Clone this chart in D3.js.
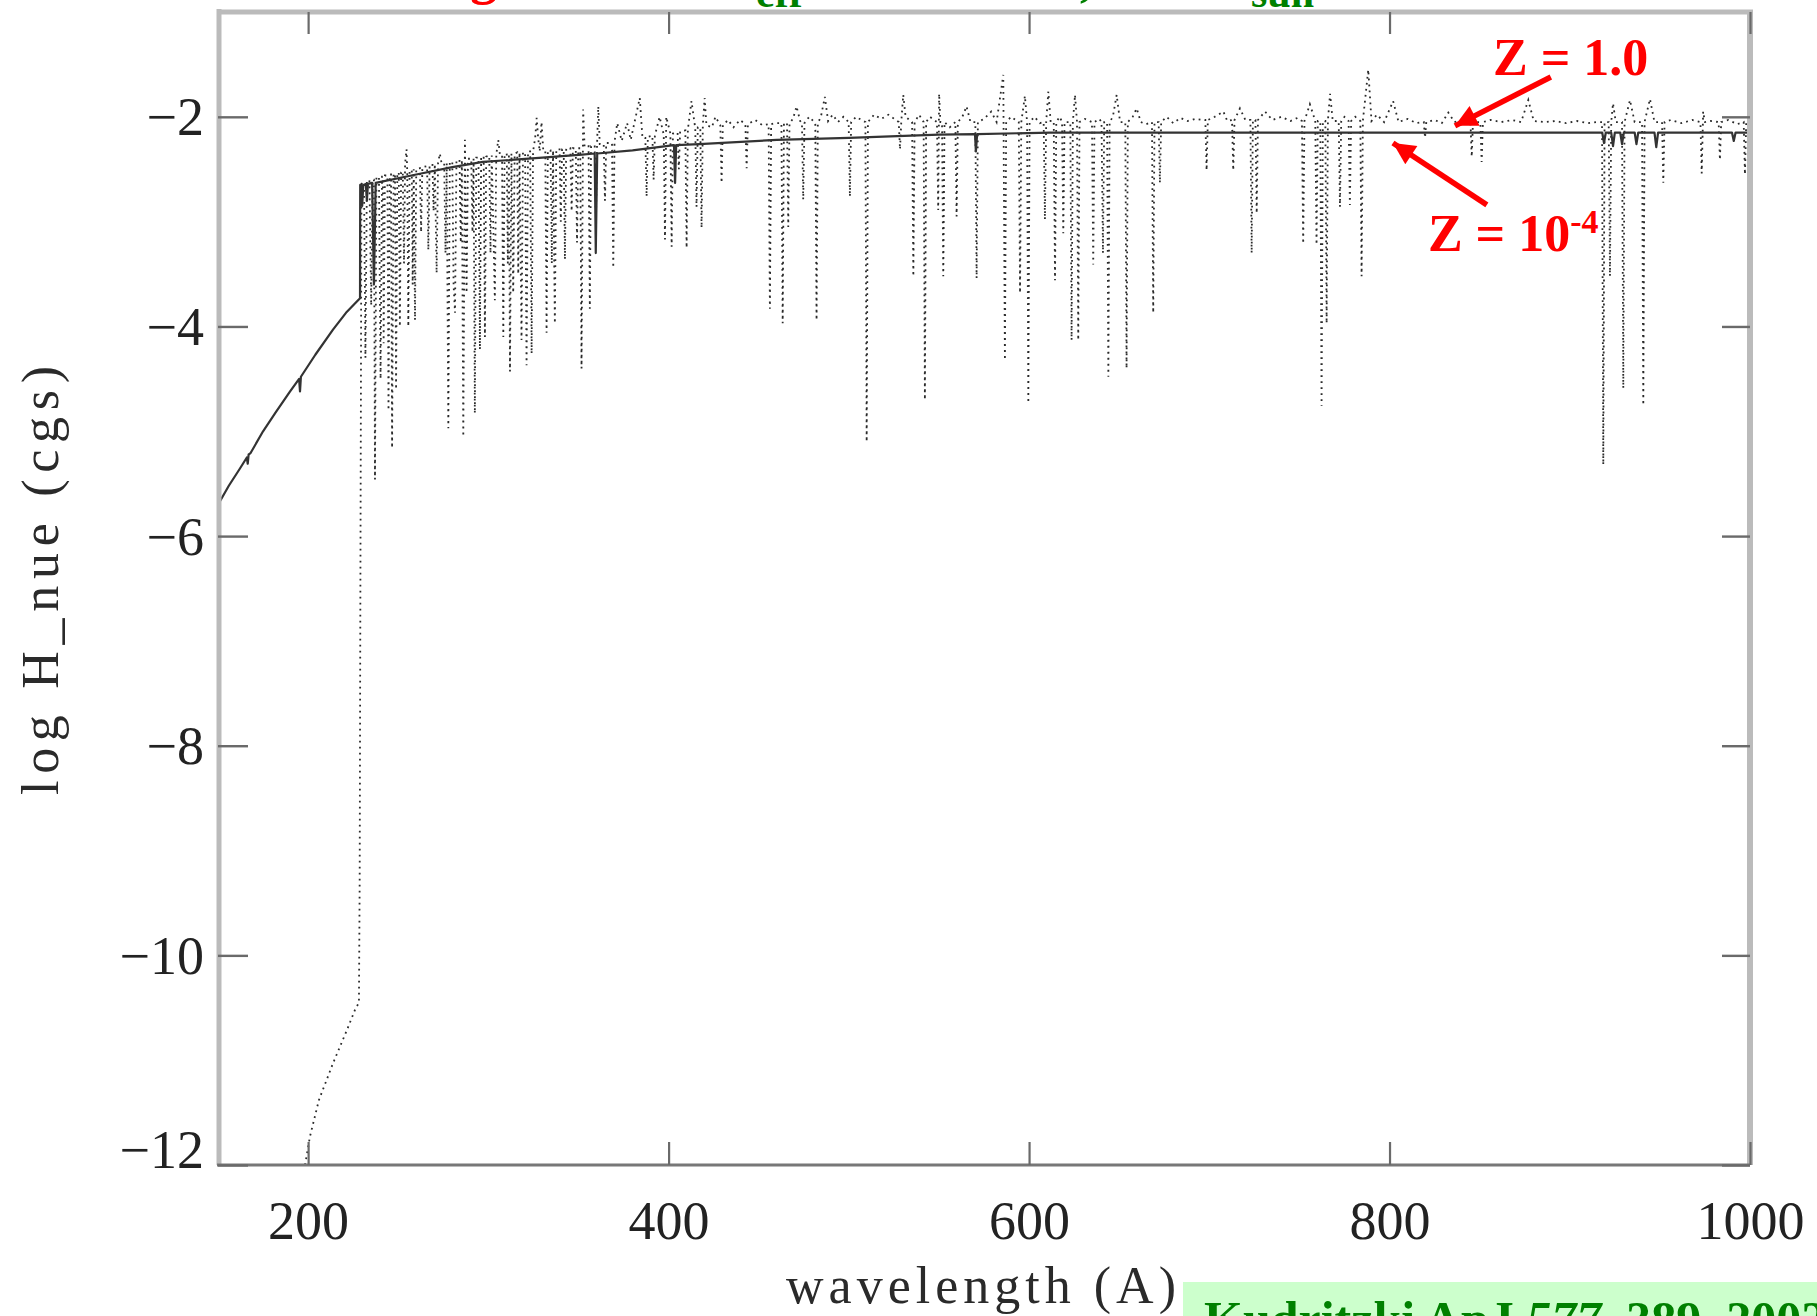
<!DOCTYPE html>
<html>
<head>
<meta charset="utf-8">
<script src="https://cdn.jsdelivr.net/npm/d3@7"></script>
<style>
  html, body { margin: 0; padding: 0; background: #ffffff; }
  svg { display: block; }
</style>
</head>
<body>
<svg id="chart" width="1817" height="1316"></svg>
<script>
// ---------------- DATA ----------------
const xTicks = [200, 400, 600, 800, 1000];
const yTicks = [-2, -4, -6, -8, -10, -12];
const xDomain = [150, 1000];
const yDomain = [-12, -1];

// Z = 1e-4 model (solid line): [wavelength (A), log H_nue]
const spectrumZ4 = [
  [150,-5.70],[156,-5.52],[162,-5.36],[166,-5.25],[166.5,-5.31],[167,-5.22],[168,-5.21],
  [175,-5.00],[182,-4.82],[190,-4.62],[195,-4.50],[195.5,-4.62],[196,-4.48],[204,-4.27],
  [213.8,-4.03],[221,-3.87],[228.8,-3.73],[228.9,-2.65],[229.5,-2.65],[230,-2.85],[230.6,-2.65],
  [232,-2.64],[232.6,-2.80],[233.2,-2.64],[235.5,-2.63],[236.5,-3.60],[237.5,-2.63],
  [260,-2.55],[280,-2.48],[297,-2.43],[330,-2.39],[352,-2.36],[359,-2.35],[359.6,-3.30],
  [360.4,-2.35],[380,-2.32],[403,-2.27],[403.6,-2.63],[404.2,-2.27],[417,-2.26],[460,-2.22],
  [500,-2.20],[550,-2.17],[570,-2.165],[570.5,-2.33],[571.2,-2.165],[612,-2.15],[700,-2.15],
  [800,-2.15],[918,-2.15],[919,-2.25],[920,-2.15],[923,-2.15],[924,-2.28],[925,-2.15],
  [928,-2.15],[929,-2.26],[930,-2.15],[936,-2.15],[937,-2.26],[938,-2.15],[947,-2.15],
  [948,-2.29],[949,-2.15],[990,-2.15],[991,-2.23],[992,-2.15],[1000,-2.15]
];

// Z = 1.0 model (dotted line): [wavelength (A), log H_nue]
const spectrumZ1 = [
  [198.3,-12.0],[201,-11.73],[206,-11.38],[213.8,-11.03],[221.6,-10.71],[226,-10.52],[228.2,-10.45],
  [228.6,-9.3],[229.0,-6.5],[229.6,-2.64],
  [231.0,-2.62],[231.8,-4.3],[232.6,-2.62],[234.0,-2.6],[235.0,-3.8],[235.8,-2.6],
  [236.5,-2.6],[237.1,-5.46],[237.9,-2.58],[239.3,-2.57],[240.2,-4.5],[241.0,-2.57],
  [241.5,-2.57],[241.9,-4.16],[242.6,-2.56],[244.0,-2.56],[244.6,-4.8],[245.3,-2.55],
  [246.0,-2.55],[246.6,-5.16],[247.4,-2.55],[248.2,-2.54],[248.8,-4.6],[249.5,-2.54],
  [250.3,-2.53],[250.9,-4.0],[251.6,-2.53],[252.5,-2.52],[253.2,-3.4],[253.8,-2.45],[254.6,-2.31],[255.0,-2.52],
  [255.6,-4.0],[256.3,-2.51],[257.5,-2.51],[258.0,-3.6],[258.6,-2.5],[259.3,-3.94],[260.0,-2.5],
  [262.0,-2.49],[262.7,-3.1],[263.4,-2.48],[266.0,-2.47],[266.7,-3.27],[267.4,-2.47],
  [269.0,-2.45],[269.6,-2.9],[270.3,-2.45],[271.3,-3.49],[272.1,-2.44],[273.1,-2.35],[274.0,-2.44],
  [275.5,-2.44],[276.2,-3.3],[276.9,-2.44],[277.8,-4.97],[278.6,-2.43],
  [280.0,-2.43],[280.7,-3.6],[281.5,-3.87],[282.3,-2.42],[284.0,-2.41],[284.7,-3.2],[285.3,-2.41],
  [286.1,-5.05],[287.0,-2.22],[287.9,-3.68],[288.7,-2.4],[290.5,-2.4],[291.2,-3.1],[291.8,-2.4],
  [292.5,-4.83],[293.3,-2.39],[294.5,-2.39],[295.3,-4.22],[296.0,-2.38],
  [297.4,-2.38],[298.1,-4.10],[298.8,-2.38],[300.5,-2.37],[301.2,-3.3],[301.9,-2.37],
  [303.6,-3.75],[304.4,-2.36],[305.5,-2.22],[306.4,-2.36],[307.6,-2.36],[308.3,-4.10],[309.0,-2.36],
  [310.2,-2.35],[310.8,-3.4],[311.4,-2.35],[312.0,-4.43],[312.8,-2.35],[313.8,-3.68],[314.6,-2.35],
  [316.0,-2.34],[316.6,-3.5],[317.3,-2.34],[318.4,-4.13],[319.2,-2.34],
  [320.4,-2.34],[321.2,-4.37],[322.0,-2.33],[323.2,-2.33],[324.0,-4.26],[324.8,-2.33],
  [326.0,-2.2],[326.8,-2.01],[327.6,-2.2],[328.5,-2.33],[329.5,-2.05],[330.5,-2.33],
  [331.6,-2.33],[332.3,-4.06],[333.0,-2.32],[334.5,-2.32],[335.2,-3.4],[335.9,-2.32],
  [336.9,-3.97],[337.7,-2.31],[339.5,-2.31],[340.2,-3.0],[340.9,-2.31],
  [341.8,-2.31],[342.5,-3.36],[343.2,-2.3],[345.5,-2.3],[346.2,-2.9],[346.9,-2.3],
  [348.5,-2.3],[349.2,-3.2],[349.9,-2.3],[351.0,-2.3],[351.7,-4.40],[352.6,-1.93],[353.4,-2.29],
  [355.6,-2.28],[356.3,-3.83],[357.0,-2.28],[359.0,-2.27],[359.7,-3.0],[360.3,-2.27],[361.0,-1.9],[361.8,-2.26],
  [364.0,-2.26],[364.7,-2.8],[365.4,-2.25],[368.6,-2.25],[369.3,-3.44],[370.0,-2.24],
  [371.5,-2.06],[374.0,-2.23],[377.0,-2.06],[379.0,-2.22],[384.0,-1.82],[385.5,-2.2],
  [387.1,-2.2],[387.8,-2.76],[388.5,-2.19],[391.0,-2.18],[391.7,-2.6],[392.4,-2.18],
  [395.0,-2.0],[397.3,-2.17],[398.0,-3.17],[398.7,-2.0],[401.0,-2.16],[401.7,-3.24],[402.4,-2.16],
  [405.0,-2.15],[405.7,-2.5],[406.4,-2.14],[409.3,-2.13],[410.0,-3.25],[410.7,-2.12],
  [412.7,-1.85],[414.8,-2.11],[415.5,-2.86],[416.2,-2.1],
  [417.6,-2.1],[418.3,-3.06],[419.0,-2.08],[420.0,-1.82],[421.0,-2.08],
  [424.0,-2.1],[426.0,-2.0],[428.7,-2.08],[429.4,-2.63],[430.1,-2.08],
  [433.0,-2.03],[436.0,-2.1],[439.6,-2.03],[442.6,-2.07],[443.3,-2.49],[444.0,-2.07],
  [448.0,-2.03],[452.0,-2.08],[455.5,-2.07],[456.2,-3.83],[456.9,-2.07],
  [459.0,-2.06],[462.6,-2.06],[463.3,-3.97],[464.0,-2.06],[465.7,-2.06],[466.4,-3.05],[467.1,-2.06],
  [469.0,-2.02],[471.0,-1.9],[473.0,-2.04],[474.0,-2.06],[474.7,-2.79],[475.4,-2.06],
  [478.0,-2.0],[481.4,-2.06],[482.1,-3.94],[482.8,-2.06],
  [484.5,-2.0],[486.7,-1.81],[488.5,-2.04],[491.0,-1.98],[494.0,-2.05],[497.0,-2.0],
  [499.9,-2.05],[500.6,-2.76],[501.3,-2.05],[504.0,-2.0],[507.0,-2.03],[509.2,-2.05],[509.9,-5.10],[510.6,-2.05],
  [514.0,-1.98],[518.0,-2.02],[522.0,-1.98],[526.0,-2.03],[527.7,-2.05],[528.4,-2.31],[529.1,-2.05],
  [530.2,-1.79],[531.5,-2.0],[535.1,-2.05],[535.8,-3.52],[536.5,-2.05],
  [539.0,-1.98],[541.5,-2.05],[542.2,-4.70],[542.9,-2.05],
  [545.0,-2.0],[548.9,-2.05],[549.6,-2.89],[550.1,-1.78],[550.8,-2.05],
  [551.7,-2.05],[552.4,-3.52],[553.1,-2.05],[556.0,-2.1],[559.1,-2.05],[559.8,-2.95],[560.5,-2.05],
  [563.0,-2.0],[565.3,-1.9],[567.5,-2.05],[570.2,-2.05],[570.9,-3.54],[571.6,-2.05],
  [575.0,-2.02],[579.0,-1.95],[582.0,-2.05],[585.7,-1.6],[586.6,-4.32],[587.3,-2.05],
  [590.0,-2.0],[594.3,-2.05],[595.0,-3.68],[595.7,-2.05],
  [597.7,-1.8],[598.9,-2.05],[599.6,-4.73],[600.3,-2.05],
  [603.0,-2.0],[606.0,-2.06],[608.1,-2.05],[608.8,-2.98],[609.5,-2.05],[610.7,-1.76],[612.0,-2.05],
  [613.7,-2.05],[614.4,-3.56],[615.1,-2.05],[617.0,-2.0],[618.3,-2.05],[619.0,-3.11],[619.7,-2.05],
  [622.9,-2.05],[623.6,-4.13],[624.3,-2.05],[625.5,-1.79],[626.6,-2.05],[627.3,-4.13],[628.0,-2.05],
  [631.0,-2.02],[634.9,-2.05],[635.6,-3.41],[636.3,-2.05],
  [639.0,-2.02],[640.2,-2.05],[641.0,-3.3],[641.7,-2.05],[643.3,-2.05],[644.0,-4.48],[644.7,-2.05],
  [646.5,-2.0],[648.6,-1.79],[650.5,-2.05],[653.4,-2.05],[654.1,-4.40],[654.8,-2.05],
  [657.5,-2.0],[659.7,-1.92],[662.0,-2.05],[665.0,-2.07],[668.2,-2.05],[668.9,-3.87],[669.6,-2.05],
  [671.9,-2.05],[672.6,-2.63],[673.3,-2.05],
  [676.3,-2.0],[680.0,-2.06],[684.0,-2.01],[688.0,-2.04],[692.0,-2.02],[696.0,-2.03],
  [697.8,-2.03],[698.5,-2.51],[699.2,-2.03],
  [703.0,-2.0],[707.8,-1.95],[710.0,-2.04],[712.6,-2.03],[713.3,-2.51],[714.0,-2.03],
  [717.0,-1.92],[720.0,-2.03],[722.8,-2.03],[723.5,-3.30],[724.2,-2.03],
  [725.6,-2.03],[726.3,-2.92],[727.0,-2.03],
  [730.9,-1.95],[735.0,-2.03],[740.0,-2.0],[745.0,-2.04],[749.0,-2.01],
  [751.4,-2.04],[752.1,-3.21],[752.8,-2.04],[755.8,-1.88],[758.8,-2.04],[759.5,-3.22],[760.2,-2.04],
  [761.6,-2.04],[762.3,-4.76],[763.0,-2.04],[764.4,-2.04],[765.1,-3.97],[765.8,-2.04],[767.0,-1.78],[768.5,-2.04],
  [771.8,-2.04],[772.5,-2.86],[773.2,-2.04],[775.0,-2.0],[777.3,-2.04],[778.0,-2.84],[778.7,-2.04],
  [781.0,-2.0],[783.8,-2.04],[784.5,-3.52],[785.2,-2.04],
  [788.2,-1.55],[790.0,-2.04],[793.0,-1.98],[797.0,-2.05],[802.0,-1.85],[805.0,-2.05],
  [810.0,-2.02],[815.0,-2.06],[819.0,-2.05],[819.7,-2.20],[820.4,-2.05],
  [825.0,-2.03],[829.0,-2.06],[832.6,-1.96],[836.0,-2.05],[840.0,-2.03],
  [844.9,-2.05],[845.6,-2.38],[846.3,-2.05],[850.4,-2.05],[851.1,-2.43],[851.8,-2.05],
  [856.0,-2.03],[862.0,-2.05],[868.0,-2.03],[873.0,-2.05],[877.0,-1.84],[880.0,-2.04],
  [886.0,-2.05],[892.0,-2.04],[898.0,-2.06],[904.0,-2.04],[910.0,-2.06],[915.0,-2.05],
  [917.9,-2.05],[918.6,-5.32],[919.3,-2.05],
  [921.6,-2.05],[922.3,-3.52],[923.0,-2.05],[924.0,-1.87],[925.5,-2.05],
  [929.0,-2.05],[929.7,-4.59],[930.4,-2.05],
  [933.4,-1.84],[936.0,-2.05],[940.1,-2.05],[940.8,-4.75],[941.5,-2.05],
  [944.5,-1.83],[947.0,-2.05],[951.2,-2.05],[951.9,-2.63],[952.6,-2.05],
  [956.0,-2.03],[962.0,-2.06],[968.0,-2.03],[972.5,-2.05],[973.2,-2.54],[974.0,-1.95],[975.0,-2.05],
  [978.0,-2.04],[982.6,-2.05],[983.3,-2.41],[984.0,-2.05],
  [988.0,-2.03],[993.0,-2.07],[996.5,-2.05],[997.2,-2.55],[997.9,-2.05],[1000,-2.06]
];

// annotations (data coordinates)
const labelZ1 = { text: "Z = 1.0", at: [857.4, -1.60] };
const labelZ4 = { text: "Z = 10", sup: "-4", at: [821.3, -3.28] };
const arrows = [
  { from: [889.5, -1.62], to: [836.3, -2.086] },
  { from: [854.0, -2.84], to: [801.9, -2.25] }
];

const xLabel = "wavelength (A)";
const yLabel = "log H_nue (cgs)";
const citation = ["Kudritzki ApJ ", "577", ", 389, 2002"];

// ---------------- DRAWING ----------------
const svg = d3.select("#chart");
const W = 1817, H = 1316;
svg.append("rect").attr("width", W).attr("height", H).attr("fill", "#ffffff");

const x = d3.scaleLinear().domain(xDomain).range([218, 1750]);
const y = d3.scaleLinear().domain(yDomain).range([1165, 12]);

const serif = "'Liberation Serif', 'Times New Roman', serif";

// clipped plot area
svg.append("defs").append("clipPath").attr("id", "plotclip")
  .append("rect")
  .attr("x", x(xDomain[0])).attr("y", y(yDomain[1]))
  .attr("width", x(xDomain[1]) - x(xDomain[0]))
  .attr("height", y(yDomain[0]) - y(yDomain[1]));

const plot = svg.append("g").attr("clip-path", "url(#plotclip)");
const line = d3.line().x(d => x(d[0])).y(d => y(d[1]));

plot.append("path").datum(spectrumZ1)
  .attr("d", line)
  .attr("fill", "none")
  .attr("stroke", "#2a2a2a")
  .attr("stroke-width", 1.8)
  .attr("stroke-dasharray", "1.8,4.2")
  .attr("stroke-linejoin", "miter");

plot.append("path").datum(spectrumZ4)
  .attr("d", line)
  .attr("fill", "none")
  .attr("stroke", "#333333")
  .attr("stroke-width", 2.2)
  .attr("stroke-linejoin", "round");

// frame
const x0 = x(xDomain[0]), x1 = x(xDomain[1]), y0 = y(yDomain[0]), y1 = y(yDomain[1]);
svg.append("line").attr("x1", x0 + 1).attr("x2", x0 + 1).attr("y1", y1 - 3).attr("y2", y0)
  .attr("stroke", "#bbbbbb").attr("stroke-width", 5);
svg.append("line").attr("x1", x0 - 1).attr("x2", x1 + 3).attr("y1", y1).attr("y2", y1)
  .attr("stroke", "#bbbbbb").attr("stroke-width", 5);
svg.append("line").attr("x1", x1).attr("x2", x1).attr("y1", y1 - 2).attr("y2", y0)
  .attr("stroke", "#bbbbbb").attr("stroke-width", 6);
svg.append("line").attr("x1", x0 - 1).attr("x2", x1).attr("y1", y0).attr("y2", y0)
  .attr("stroke", "#777777").attr("stroke-width", 3);

const fmt = d => (d < 0 ? "\u2212" + Math.abs(d) : String(d));

// bottom axis
const gB = svg.append("g").attr("transform", `translate(0,${y0})`)
  .call(d3.axisBottom(x).tickValues(xTicks).tickSize(-23).tickFormat(fmt));
gB.select(".domain").remove();
gB.attr("font-family", serif).attr("font-size", 54).attr("color", "#6a6a6a");
gB.selectAll(".tick line").attr("stroke-width", 2.2);
gB.selectAll(".tick text").attr("y", 74).attr("dy", null).attr("fill", "#222222");

// top axis
const gT = svg.append("g").attr("transform", `translate(0,${y1})`)
  .call(d3.axisTop(x).tickValues(xTicks).tickSize(-22).tickFormat(""));
gT.select(".domain").remove();
gT.attr("color", "#6a6a6a");
gT.selectAll(".tick line").attr("stroke-width", 2.2);

// left axis
const gL = svg.append("g").attr("transform", `translate(${x0},0)`)
  .call(d3.axisLeft(y).tickValues(yTicks).tickSize(-30).tickPadding(14).tickFormat(fmt));
gL.select(".domain").remove();
gL.attr("font-family", serif).attr("font-size", 54).attr("color", "#6a6a6a");
gL.selectAll(".tick line").attr("stroke-width", 2.4);
gL.selectAll(".tick text")
  .attr("dy", null)
  .attr("y", d => Math.min(y(d) + 18, y0 + 2) - y(d))
  .attr("fill", "#222222");

// right axis
const gR = svg.append("g").attr("transform", `translate(${x1},0)`)
  .call(d3.axisRight(y).tickValues(yTicks).tickSize(-28).tickFormat(""));
gR.select(".domain").remove();
gR.attr("color", "#6a6a6a");
gR.selectAll(".tick line").attr("stroke-width", 2.4);

// axis titles
svg.append("text")
  .attr("x", 981).attr("y", 1303)
  .attr("text-anchor", "middle")
  .attr("font-family", serif).attr("font-size", 52).attr("fill", "#2a2a2a")
  .attr("textLength", 390).attr("lengthAdjust", "spacing")
  .text(xLabel);

svg.append("text")
  .attr("transform", `translate(58,${(y0 + y1) / 2 - 8}) rotate(-90)`)
  .attr("text-anchor", "middle")
  .attr("font-family", serif).attr("font-size", 52).attr("fill", "#2a2a2a")
  .attr("textLength", 429).attr("lengthAdjust", "spacing")
  .text(yLabel);

// title fragments, cut off at the top edge
const title = svg.append("g").attr("font-family", serif).attr("font-weight", "bold");
title.append("text").attr("x", 497).attr("y", -7).attr("text-anchor", "end")
  .attr("font-size", 54).attr("fill", "#ff0000").text("g");
const t2 = title.append("text").attr("x", 722).attr("y", -7).attr("font-size", 54).attr("fill", "#008000");
t2.append("tspan").text("T");
t2.append("tspan").attr("x", 756).attr("y", 7).attr("font-size", 42).text("eff");
title.append("text").attr("x", 1080).attr("y", -5).attr("font-size", 54).attr("fill", "#008000").text(",");
const t3 = title.append("text").attr("x", 1215).attr("y", -7).attr("font-size", 54).attr("fill", "#008000");
t3.append("tspan").text("Z");
t3.append("tspan").attr("x", 1251).attr("y", 7).attr("font-size", 42).text("sun");

// annotations
const defs = svg.select("defs");
defs.append("marker").attr("id", "arrowhead")
  .attr("viewBox", "0 0 10 10").attr("refX", 10).attr("refY", 5)
  .attr("markerUnits", "userSpaceOnUse")
  .attr("markerWidth", 28).attr("markerHeight", 22)
  .attr("orient", "auto")
  .append("path").attr("d", "M0,0 L10,5 L0,10 Z").attr("fill", "#ff0000");

svg.selectAll(".arrow").data(arrows).enter().append("line")
  .attr("class", "arrow")
  .attr("x1", d => x(d.from[0])).attr("y1", d => y(d.from[1]))
  .attr("x2", d => x(d.to[0])).attr("y2", d => y(d.to[1]))
  .attr("stroke", "#ff0000").attr("stroke-width", 5.5)
  .attr("marker-end", "url(#arrowhead)");

svg.append("text")
  .attr("x", x(labelZ1.at[0])).attr("y", y(labelZ1.at[1]))
  .attr("font-family", serif).attr("font-weight", "bold").attr("font-size", 52)
  .attr("fill", "#ff0000").text(labelZ1.text);

const tz = svg.append("text")
  .attr("x", x(labelZ4.at[0])).attr("y", y(labelZ4.at[1]))
  .attr("font-family", serif).attr("font-weight", "bold").attr("font-size", 52)
  .attr("fill", "#ff0000");
tz.append("tspan").text(labelZ4.text);
tz.append("tspan").attr("dy", -18).attr("font-size", 34).text(labelZ4.sup);

// citation box
svg.append("rect").attr("x", 1183).attr("y", 1282).attr("width", W - 1183).attr("height", H - 1282)
  .attr("fill", "#ccffcc");
const ct = svg.append("text").attr("x", 1204).attr("y", 1336)
  .attr("font-family", serif).attr("font-weight", "bold").attr("font-size", 50).attr("fill", "#008000");
ct.append("tspan").text(citation[0]);
ct.append("tspan").attr("font-style", "italic").text(citation[1]);
ct.append("tspan").text(citation[2]);
</script>
</body>
</html>
